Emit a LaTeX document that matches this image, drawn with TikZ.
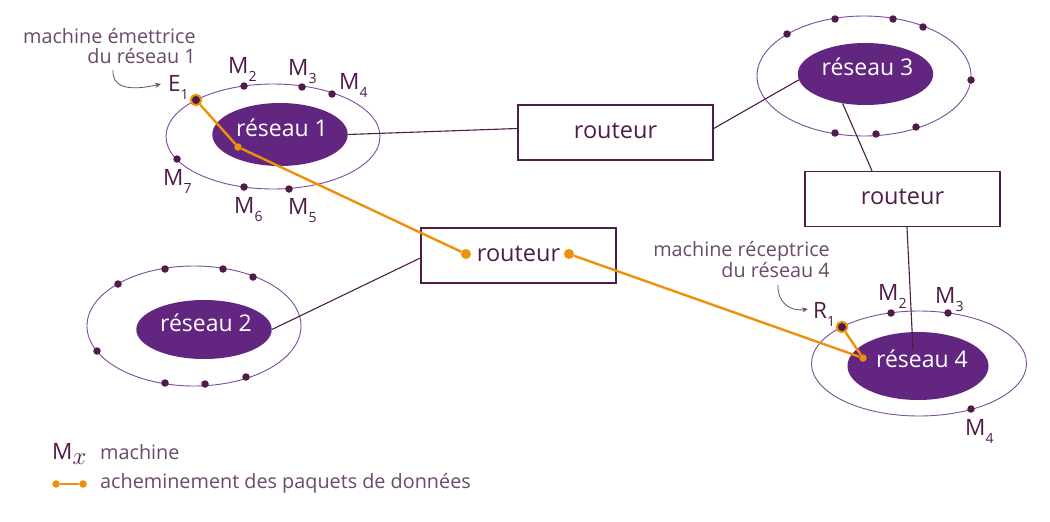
\documentclass[tikz,border=0pt]{standalone}
\usepackage{fontspec}
\setmainfont{Open Sans}
\usetikzlibrary{arrows.meta,shapes.geometric}
\definecolor{plum}{HTML}{4F1C4A}
\definecolor{netfill}{HTML}{622680}
\definecolor{ringc}{HTML}{7A4E9A}
\definecolor{orng}{HTML}{ED910A}
\definecolor{annot}{HTML}{6B4A6B}
\newcommand\myfs[1]{\fontsize{#1}{#1}\selectfont}
\newcommand\msub[1]{\raisebox{-8pt}{\myfs{14}#1}}
\begin{document}
\begin{tikzpicture}[x=1pt,y=-1pt,
  ring/.style={draw=ringc,line width=0.9pt},
  net/.style={ellipse,fill=netfill,text=white,font=\myfs{23},inner sep=0pt,text height=16.5pt,text depth=13.5pt},
  machine/.style={circle,fill=plum,minimum size=7.5pt,inner sep=0pt},
  emitter/.style={circle,fill=plum,draw=orng,line width=2pt,minimum size=10.5pt,inner sep=0pt},
  odot/.style={circle,fill=orng,minimum size=10pt,inner sep=0pt},
  sdot/.style={circle,fill=orng,minimum size=7.5pt,inner sep=0pt},
  router/.style={draw=plum,line width=1.4pt,minimum width=195pt,minimum height=55pt,inner sep=0pt,text=plum,font=\myfs{23.5},text depth=4pt},
  link/.style={draw=plum,line width=1.1pt},
  route/.style={draw=orng,line width=2.4pt},
  mlab/.style={text=plum,font=\myfs{22.5},inner sep=0pt,anchor=base west},
  note/.style={text=annot,font=\fontsize{19.8}{20.5}\selectfont,align=right,inner sep=0pt,anchor=east},
  legtext/.style={text=annot,font=\myfs{19.8},inner sep=0pt,anchor=base west},
  notearrow/.style={draw=annot,line width=0.8pt,-{Stealth[length=6pt,width=5pt]}}]
\useasboundingbox (0,0) rectangle (1050,522);
\fill[white] (0,0) rectangle (1050,522);

% outer rings
\draw[ring] (273,136.5) ellipse [x radius=107pt, y radius=52.5pt];
\draw[ring] (194,326) ellipse [x radius=107pt, y radius=60pt];
\draw[ring] (864,76) ellipse [x radius=107pt, y radius=60pt];
\draw[ring] (919,363.5) ellipse [x radius=107.5pt, y radius=52.5pt];

% networks
\node[net,minimum width=127pt,minimum height=63pt] (n1) at (280,134.5) {\hspace{4pt}réseau 1};
\node[net,minimum width=128pt,minimum height=59pt] (n2) at (204,329.5) {\hspace{4pt}réseau 2};
\node[net,minimum width=127pt,minimum height=62pt] (n3) at (865.5,74) {\hspace{4pt}réseau 3};
\node[net,minimum width=138pt,minimum height=68pt] (n4) at (918,366) {\hspace{8pt}réseau 4};

% routers
\node[router] (r1) at (615.5,132.5) {routeur};
\node[router] (r2) at (518.5,255.5) {routeur};
\node[router] (r3) at (902.5,199) {routeur};

% links
\draw[link] (n1.east) -- ([yshift=4pt]r1.west);
\draw[link] ([yshift=4pt]r1.east) -- (n3.185);
\draw[link] (n3.232) -- ([xshift=-30.5pt]r3.north);
\draw[link] ([xshift=4.5pt]r3.south) -- ([xshift=-5pt,yshift=-18pt]n4.north);
\draw[link] (n2.east) -- ([yshift=-2.5pt]r2.west);

% machines network 1
\node[emitter] (e1) at (196,100) {};
\node[machine] (m12) at (244,86) {};
\node[machine] (m13) at (302,87) {};
\node[machine] (m14) at (332,94) {};
\node[machine] (m17) at (177,159) {};
\node[machine] (m16) at (244,187) {};
\node[machine] (m15) at (289,189) {};
% machines network 2
\node[machine] (m21) at (118,284) {};
\node[machine] (m22) at (165,269) {};
\node[machine] (m23) at (223,269) {};
\node[machine] (m24) at (253,277) {};
\node[machine] (m25) at (97,351) {};
\node[machine] (m26) at (165,383) {};
\node[machine] (m27) at (205,384) {};
\node[machine] (m28) at (246,377) {};
% machines network 3
\node[machine] (m31) at (787,34) {};
\node[machine] (m32) at (835,19) {};
\node[machine] (m33) at (893,19) {};
\node[machine] (m34) at (923,27) {};
\node[machine] (m35) at (971,80) {};
\node[machine] (m36) at (916,127) {};
\node[machine] (m37) at (876,134) {};
\node[machine] (m38) at (835,133) {};
% machines network 4
\node[emitter] (r41) at (842,327) {};
\node[machine] (m42) at (891,313) {};
\node[machine] (m43) at (948,313) {};
\node[machine] (m44) at (971,409) {};

% route dots
\node[sdot] (p1) at (238,147) {};
\node[odot] (p2) at (466,254) {};
\node[odot] (p3) at (569,254) {};
\node[sdot] (p4) at (863,358) {};

% data route
\draw[route] (e1) -- (p1);
\draw[route] (p1) -- (p2);
\draw[route] (p3) -- (p4);
\draw[route] (p4) -- (r41);

% labels network 1
\node[mlab] (le1) at (168,91) {E\msub{1}};
\node[mlab] (l12) at (228,73) {M\msub{2}};
\node[mlab] (l13) at (288,75) {M\msub{3}};
\node[mlab] (l14) at (339,89) {M\msub{4}};
\node[mlab] (l17) at (163,185) {M\msub{7}};
\node[mlab] (l16) at (234,213) {M\msub{6}};
\node[mlab] (l15) at (288,214) {M\msub{5}};
% labels network 4
\node[mlab] (lr1) at (813,318) {R\msub{1}};
\node[mlab] (l42) at (878,300) {M\msub{2}};
\node[mlab] (l43) at (935,303) {M\msub{3}};
\node[mlab] (l44) at (965,435) {M\msub{4}};

% annotations
\node[note] (t1) at (196,46) {machine émettrice\\du réseau 1};
\node[note] (t4) at (830,259.5) {machine réceptrice\\du réseau 4};
\coordinate (a1s) at (113,70);
\coordinate (a1e) at (161,84);
\draw[notearrow] (a1s) .. controls (112,86) and (126,92) .. (a1e);
\coordinate (a4s) at (778,285);
\coordinate (a4e) at (808,309);
\draw[notearrow] (a4s) .. controls (777,301) and (789,312) .. (a4e);

% legend
\node[mlab] (lgm) at (52,459) {M\raisebox{-5pt}{\fontsize{27}{27}\selectfont$x$}};
\node[legtext] (lgt1) at (100,459) {machine};
\node[sdot] (lga) at (56,484) {};
\node[sdot] (lgb) at (83,484) {};
\draw[route,line width=2pt] (lga) -- (lgb);
\node[legtext] (lgt2) at (100,488) {acheminement des paquets de données};
\end{tikzpicture}
\end{document}
